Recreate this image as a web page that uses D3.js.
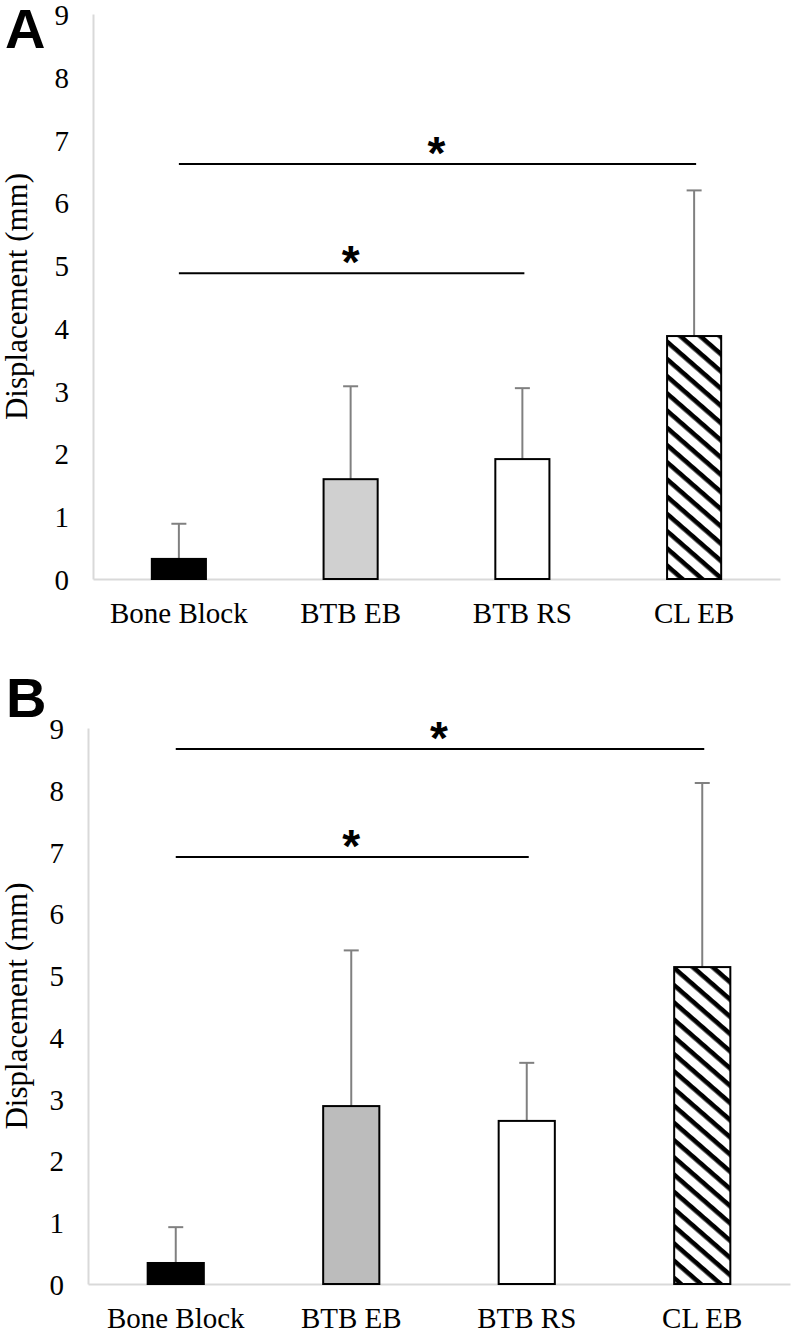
<!DOCTYPE html>
<html>
<head>
<meta charset="utf-8">
<script src="https://cdn.jsdelivr.net/npm/d3@7/dist/d3.min.js"></script>
<style>
  html, body { margin: 0; padding: 0; background: #fff; }
  svg { display: block; }
  .serif { font-family: "Liberation Serif", "Times New Roman", Times, "DejaVu Serif", serif; }
  .sans { font-family: "Liberation Sans", Arial, Helvetica, sans-serif; }
</style>
</head>
<body>
<script>
// ---- data ----
const categories = ["Bone Block", "BTB EB", "BTB RS", "CL EB"];
const meansA = [0.32, 1.59, 1.91, 3.87];
const sdA    = [0.56, 1.48, 1.13, 2.32];
const meansB = [0.34, 2.88, 2.64, 5.13];
const sdB    = [0.58, 2.52, 0.94, 2.98];
const yTicks = [0, 1, 2, 3, 4, 5, 6, 7, 8, 9];
const sigA = [
  { from: "Bone Block", to: "CL EB", level: 6.61, label: "*" },
  { from: "Bone Block", to: "BTB RS", level: 4.87, label: "*" }
];
const sigB = [
  { from: "Bone Block", to: "CL EB", level: 8.66, label: "*" },
  { from: "Bone Block", to: "BTB RS", level: 6.91, label: "*" }
];
const yTitle = "Displacement (mm)";

const W = 792, H = 1331;
const svg = d3.select("body").append("svg").attr("width", W).attr("height", H);

const defs = svg.append("defs");
const pat = defs.append("pattern")
  .attr("id", "hatch")
  .attr("patternUnits", "userSpaceOnUse")
  .attr("width", 13).attr("height", 13)
  .attr("patternTransform", "rotate(41)");
pat.append("rect").attr("width", 13).attr("height", 13).attr("fill", "#fff");
pat.append("rect").attr("width", 13).attr("height", 4.6).attr("fill", "#000");

function drawPanel(cfg) {
  const g = svg.append("g");
  const x = d3.scaleBand().domain(categories).range(cfg.xRange).padding(0);
  const y = d3.scaleLinear().domain([0, 9]).range(cfg.yRange);
  const cx = c => x(c) + x.bandwidth() / 2;
  const bw = x.bandwidth() * cfg.barFrac;

  // y axis
  const ya = g.append("g").attr("transform", `translate(${cfg.xRange[0]},0)`)
    .call(d3.axisLeft(y).tickValues(yTicks).tickSize(0).tickSizeOuter(0).tickPadding(24).tickFormat(d3.format("d")));
  ya.attr("font-family", null).attr("font-size", null);
  ya.select(".domain").attr("stroke", "#d9d9d9").attr("stroke-width", 2);
  ya.selectAll("text").attr("class", "serif").style("font-size", "29px").attr("fill", "#000").attr("dy", "0.36em");

  // x axis
  const xa = g.append("g").attr("transform", `translate(0,${cfg.yRange[0]})`)
    .call(d3.axisBottom(x).tickSize(0).tickSizeOuter(0).tickPadding(23));
  xa.attr("font-family", null).attr("font-size", null);
  xa.select(".domain").attr("stroke", "#d9d9d9").attr("stroke-width", 2);
  xa.selectAll("text").attr("class", "serif").style("font-size", "29px").attr("fill", "#000");

  // error bars (upper only)
  const eb = g.append("g").attr("stroke", "#808080").attr("stroke-width", 2);
  categories.forEach((c, i) => {
    const top = y(cfg.means[i] + cfg.sd[i]);
    eb.append("line").attr("x1", cx(c)).attr("x2", cx(c))
      .attr("y1", y(cfg.means[i])).attr("y2", top);
    eb.append("line").attr("x1", cx(c) - 7.5).attr("x2", cx(c) + 7.5)
      .attr("y1", top).attr("y2", top);
  });

  // bars
  g.append("g").selectAll("rect").data(categories).join("rect")
    .attr("x", c => cx(c) - bw / 2)
    .attr("y", (c, i) => y(cfg.means[i]))
    .attr("width", bw)
    .attr("height", (c, i) => y(0) - y(cfg.means[i]))
    .attr("fill", (c, i) => cfg.fills[i])
    .attr("stroke", "#000").attr("stroke-width", 2);

  // significance lines
  cfg.sig.forEach(s => {
    const yy = y(s.level);
    g.append("line").attr("x1", cx(s.from)).attr("x2", cx(s.to) + 2)
      .attr("y1", yy).attr("y2", yy).attr("stroke", "#000").attr("stroke-width", 2);
    g.append("text").attr("x", (cx(s.from) + cx(s.to)) / 2)
      .attr("y", yy + 5)
      .attr("text-anchor", "middle")
      .attr("class", "sans")
      .style("font-weight", "bold")
      .style("font-size", "46px")
      .text(s.label);
  });

  // y title
  const my = (cfg.yRange[0] + cfg.yRange[1]) / 2;
  g.append("text")
    .attr("transform", `translate(${cfg.titleX},${my}) rotate(-90)`)
    .attr("text-anchor", "middle")
    .attr("class", "serif").style("font-size", "31px")
    .text(yTitle);

  // panel letter
  g.append("text").attr("x", cfg.letterPos[0]).attr("y", cfg.letterPos[1])
    .attr("class", "sans")
    .style("font-weight", "bold").style("font-size", "56px")
    .text(cfg.letter);
}

drawPanel({
  xRange: [93, 780], yRange: [579, 14], barFrac: 0.315,
  means: meansA, sd: sdA, sig: sigA,
  fills: ["#000000", "#d0d0d0", "#ffffff", "url(#hatch)"],
  titleX: 27, letter: "A", letterPos: [5, 48]
});
drawPanel({
  xRange: [88, 790], yRange: [1284, 728], barFrac: 0.32,
  means: meansB, sd: sdB, sig: sigB,
  fills: ["#000000", "#bcbcbc", "#ffffff", "url(#hatch)"],
  titleX: 27, letter: "B", letterPos: [6, 717]
});
</script>
</body>
</html>
